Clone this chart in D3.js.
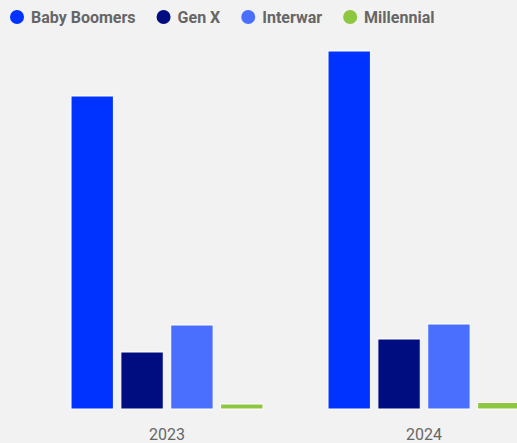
<!DOCTYPE html>
<html>
<head>
<meta charset="utf-8">
<script src="https://cdn.jsdelivr.net/npm/d3@7"></script>
<style>
  body { margin: 0; background: #f2f2f2; }
  svg { display: block; font-family: Roboto, sans-serif; }
</style>
</head>
<body>
<svg width="517" height="443"></svg>
<script>
var years = ["2023", "2024"];
var generations = ["Baby Boomers", "Gen X", "Interwar", "Millennial"];
var babyBoomers = [313, 358];
var genX = [57, 70];
var interwar = [84, 85];
var millennial = [5, 6.5];
var colors = ["#0033ff", "#000d80", "#4a6fff", "#8dc63f"];

var series = [babyBoomers, genX, interwar, millennial];

var svg = d3.select("svg"),
    width = +svg.attr("width"),
    height = +svg.attr("height");

svg.append("rect").attr("width", width).attr("height", height).attr("fill", "#f2f2f2");

var x0 = d3.scaleBand().domain(years)
    .range([38.5, 552.5])
    .paddingInner(0.222).paddingOuter(0.111);

var x1 = d3.scaleBand().domain(generations)
    .range([0, x0.bandwidth()])
    .paddingInner(0.15).paddingOuter(0.08);

var y = d3.scaleLinear().domain([0, 400]).range([409, 9]);

var color = d3.scaleOrdinal().domain(generations).range(colors);

var group = svg.selectAll(".year")
    .data(years)
    .enter().append("g")
    .attr("class", "year")
    .attr("transform", function(d) { return "translate(" + x0(d) + ",0)"; });

group.selectAll("rect")
    .data(function(d, i) {
        return generations.map(function(g, j) { return { key: g, value: series[j][i] }; });
    })
    .enter().append("rect")
    .attr("x", function(d) { return x1(d.key); })
    .attr("y", function(d) { return y(d.value); })
    .attr("width", x1.bandwidth())
    .attr("height", function(d) { return y(0) - y(d.value); })
    .attr("fill", function(d) { return color(d.key); })
    .attr("stroke", "#ffffff")
    .attr("stroke-width", 1);

// x axis labels
var xAxis = svg.append("g")
    .attr("transform", "translate(0,409)")
    .call(d3.axisBottom(x0).tickSize(0).tickPadding(20));
xAxis.select(".domain").remove();
xAxis.selectAll("text")
    .attr("fill", "#666666")
    .style("font-size", "16px")
    .style("font-family", "Roboto, sans-serif");

// legend
var legend = svg.append("g").attr("class", "legend");
var lx = 10;
generations.forEach(function(g) {
    var item = legend.append("g").attr("transform", "translate(" + lx + ",0)");
    item.append("circle")
        .attr("cx", 7).attr("cy", 17).attr("r", 7)
        .attr("fill", color(g));
    var t = item.append("text")
        .attr("x", 21).attr("y", 22.5)
        .attr("fill", "#666666")
        .style("font-size", "16px")
        .style("font-weight", "bold")
        .text(g);
    lx += 21 + t.node().getComputedTextLength() + 21;
});
</script>
</body>
</html>
